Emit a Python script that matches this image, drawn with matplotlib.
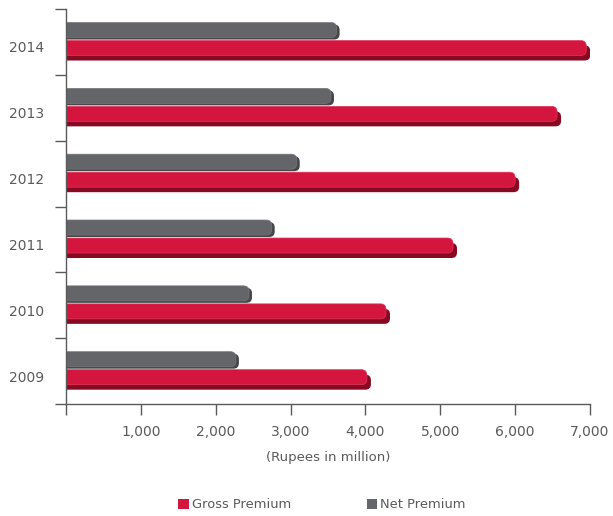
import matplotlib
matplotlib.use("Agg")
import matplotlib.pyplot as plt
from matplotlib.patches import FancyBboxPatch, Patch
import numpy as np

plt.rcParams["font.family"] = ["DejaVu Sans"]

years = ["2009", "2010", "2011", "2012", "2013", "2014"]
gross_premium = [4020, 4275, 5170, 6000, 6560, 6950]
net_premium = [2270, 2445, 2748, 3082, 3540, 3615]
xticks = [0, 1000, 2000, 3000, 4000, 5000, 6000, 7000]
xtick_labels = ["", "1,000", "2,000", "3,000", "4,000", "5,000", "6,000", "7,000"]

RED = "#D4163F"
RED_DARK = "#880A22"
GRAY = "#646569"
GRAY_DARK = "#46474A"
TXT = "#5a5a5a"

W, H = 613, 516
fig = plt.figure(figsize=(W / 100, H / 100), dpi=100)
ax = fig.add_axes([66 / W, 1 - 404 / H, (590 - 66) / W, (404 - 9) / H])
ax.set_xlim(0, 7000)
ax.set_ylim(-0.5, 5.5)

# pixel -> data conversions
px_x = 7000 / 524.0
px_y = 6 / 395.0

def rbar(y_center, width, height, face, dx=0, dy=0, z=2, ec="none", lw=0):
    r_px = 5.5
    rx = r_px * px_x
    ry = r_px * px_y
    p = FancyBboxPatch((-300 + dx, y_center - height / 2 + dy), width + 300, height,
                       boxstyle=f"round,pad=0,rounding_size={rx}",
                       mutation_aspect=ry / rx, facecolor=face, edgecolor=ec,
                       linewidth=lw, zorder=z)
    ax.add_patch(p)

ypos = np.arange(len(years))
hface = 15 * px_y
for i, (g, n) in enumerate(zip(gross_premium, net_premium)):
    # Net premium (gray) - upper
    yc_n = i + 11.9 * px_y
    rbar(yc_n, n, hface, GRAY_DARK, dx=3 * px_x, dy=-2 * px_y, z=2)
    rbar(yc_n, n, hface, GRAY, z=3, ec="#76777b", lw=0.5)
    # Gross premium (red) - lower
    yc_g = i - 6.1 * px_y
    rbar(yc_g, g, hface, RED_DARK, dx=4 * px_x, dy=-5 * px_y, z=2)
    rbar(yc_g, g, hface, RED, z=3, ec="#dc3a5c", lw=0.5)

# axes styling
for s in ["top", "right"]:
    ax.spines[s].set_visible(False)
for s in ["left", "bottom"]:
    ax.spines[s].set_color(TXT)
    ax.spines[s].set_linewidth(1.0)
    ax.spines[s].set_zorder(5)

ax.set_xticks(xticks)
ax.set_xticklabels(xtick_labels)
ax.tick_params(axis="x", length=8, width=1.0, color=TXT, labelcolor=TXT,
               labelsize=10, pad=7, direction="out")

ax.set_yticks(ypos - 5 * px_y)
ax.set_yticklabels(years)
ax.tick_params(axis="y", which="major", length=0, labelcolor=TXT, labelsize=10, pad=16)
ax.set_yticks(np.arange(-0.5, 6.0, 1.0), minor=True)
ax.tick_params(axis="y", which="minor", length=8, width=1.0, color=TXT, direction="out")

ax.set_xlabel("(Rupees in million)", color=TXT, fontsize=9.5, labelpad=9)

handles = [Patch(facecolor=RED, edgecolor="none", label="Gross Premium"),
           Patch(facecolor=GRAY, edgecolor="none", label="Net Premium")]
fig.legend(handles=handles, loc="center", bbox_to_anchor=(322 / W, 1 - 505 / H),
           ncol=2, frameon=False, fontsize=9.4, handlelength=0.77, handleheight=0.85,
           handletextpad=0.25, columnspacing=5.8, labelcolor=TXT,
           borderpad=0, borderaxespad=0)

fig.savefig("out.png", dpi=100)
